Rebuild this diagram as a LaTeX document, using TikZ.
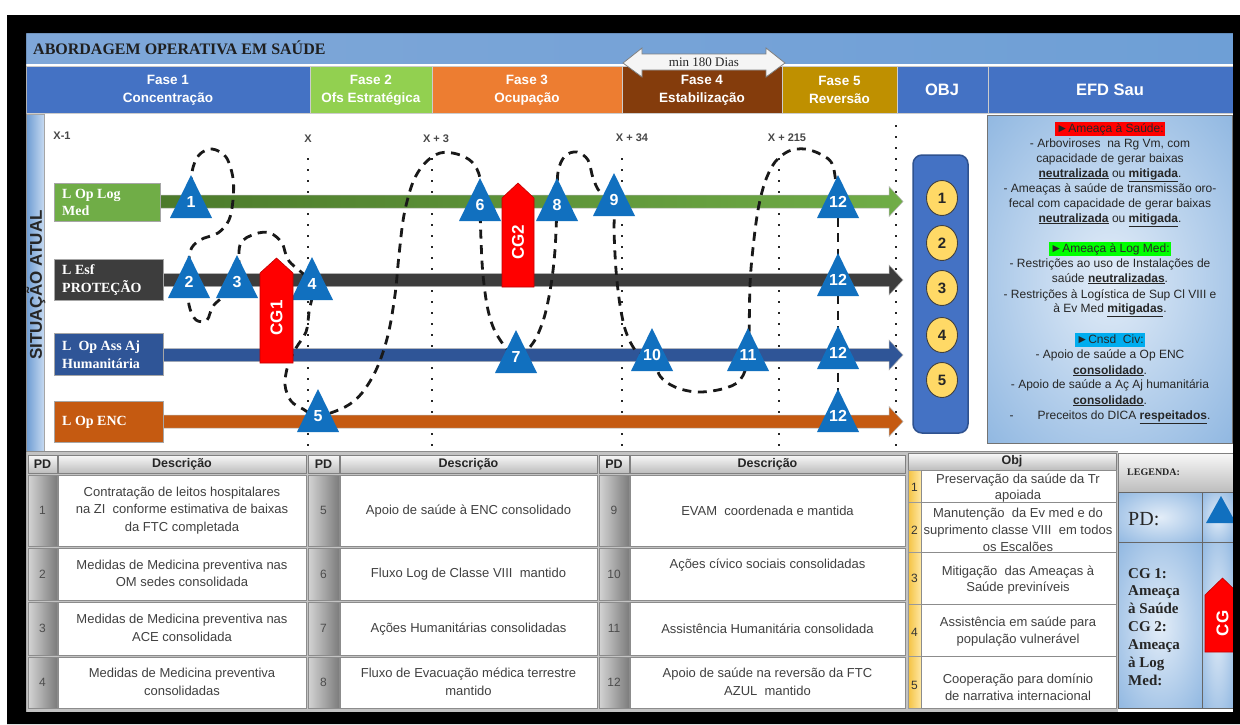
\documentclass[tikz,border=0pt]{standalone}
\usepackage{fontspec}
\setmainfont{Liberation Serif}
\setsansfont{Liberation Sans}
\usetikzlibrary{calc,shapes.geometric}

% palette
\definecolor{hdrblue}{HTML}{4472C4}
\definecolor{hdrgreen}{HTML}{92D050}
\definecolor{hdrorange}{HTML}{ED7D31}
\definecolor{hdrbrown}{HTML}{843C0C}
\definecolor{hdrgold}{HTML}{BF9000}
\definecolor{titleL}{HTML}{7FA7D8}
\definecolor{titleM}{HTML}{CBDDF2}
\definecolor{titleR}{HTML}{6E9FD6}
\definecolor{stripL}{HTML}{6C9BD2}
\definecolor{stripR}{HTML}{C6DAF1}
\definecolor{laneG}{HTML}{70AD47}
\definecolor{laneGd}{HTML}{4C7A2B}
\definecolor{laneK}{HTML}{3D3D3D}
\definecolor{laneB}{HTML}{2F5597}
\definecolor{laneO}{HTML}{C55A11}
\definecolor{pdblue}{HTML}{1170BF}
\definecolor{cgred}{HTML}{FF0000}
\definecolor{cgdark}{HTML}{C00000}
\definecolor{objyel}{HTML}{FFD966}
\definecolor{objedge}{HTML}{2F528F}
\definecolor{panelin}{HTML}{E3EDF8}
\definecolor{panelout}{HTML}{6FA2D8}
\definecolor{txtgray}{HTML}{404040}
\definecolor{pdL}{HTML}{D4D4D4}
\definecolor{pdM}{HTML}{B2B2B2}
\definecolor{pdR}{HTML}{7C7C7C}
\definecolor{hdT}{HTML}{F8F8F8}
\definecolor{hdB}{HTML}{BDBDBD}
\definecolor{frameG}{HTML}{C3C3C3}
\definecolor{stripY}{HTML}{F4C242}
\definecolor{stripYl}{HTML}{FFE8A3}

\pgfdeclareradialshading{panelshade}{\pgfpoint{0bp}{0bp}}{color(0bp)=(panelin); color(50bp)=(panelout)}

\pgfdeclarelayer{back}
\pgfdeclarelayer{mid}
\pgfsetlayers{back,mid,main}

% highlighted heading and bold underlined word
\newcommand\hlbox[2]{{\setlength{\fboxsep}{1pt}\colorbox{#1}{\rule[-3pt]{0pt}{12.5pt}#2}}}
\newcommand\ubf[1]{\underline{\textbf{#1}}}

% PD marker: name, centre x, base y, number
\newcommand\pdtri[4]{%
  \fill[pdblue] (#2-21,#3) -- (#2,#3-43) -- (#2+21,#3) -- cycle;
  \node[pdlab] (#1) at (#2,#3-16) {#4};}
% CG block arrow: name, x1, x2, apex y, shoulder y, bottom y, label
\newcommand\cgarrow[7]{%
  \path[fill=cgred, draw=cgdark, line width=0.6pt] (#2,#6) -- (#2,#5) -- ({(#2+#3)/2},#4) -- (#3,#5) -- (#3,#6) -- cycle;
  \node[cgtext] (#1) at ({(#2+#3)/2},{(#5+#6)/2}) {#7};}
% lane arrow: y centre, left x, style
\newcommand\lanearrow[3]{%
  \path[#3] (#2,#1-6.5) -- (889,#1-6.5) -- (889,#1-15) -- (903,#1) -- (889,#1+15) -- (889,#1+6.5) -- (#2,#1+6.5) -- cycle;}
% table cells
\newcommand\pdcell[6]{%
  \shade[left color=pdL, middle color=pdM, right color=pdR, draw=black!45, line width=0.5pt] (#2,#3) rectangle (#4,#5);
  \node[pdnum] (#1) at ({(#2+#4)/2},{(#3+#5)/2}) {#6};}
\newcommand\desccell[7]{%
  \path[fill=white, draw=black!45, line width=0.6pt] (#2,#3) rectangle (#4,#5);
  \node[cell] (#1) at ({(#2+#4)/2},#6) {#7};}
\newcommand\hdrcell[6]{%
  \shade[top color=hdT, bottom color=hdB, draw=black!50, line width=0.6pt] (#2,#3) rectangle (#4,#5);
  \node[hdtext] (#1) at ({(#2+#4)/2},{(#3+#5)/2}) {#6};}

\begin{document}
\begin{tikzpicture}[x=1pt,y=-1pt,
  phtext/.style={text=white, font=\sffamily\bfseries\fontsize{13.5}{18}\selectfont, align=center, inner sep=0pt},
  bightext/.style={text=white, font=\sffamily\bfseries\fontsize{16.5}{18}\selectfont, inner sep=0pt},
  tlabel/.style={text=black!72, font=\sffamily\bfseries\fontsize{11}{11}\selectfont, inner sep=0pt},
  dotline/.style={black!85, line width=2.4pt, dash pattern=on 2.4pt off 8.6pt},
  lanetext/.style={text=white, font=\bfseries\fontsize{14}{17.5}\selectfont, align=left, anchor=west, inner sep=0pt},
  pdlab/.style={text=white, font=\sffamily\bfseries\fontsize{16}{16}\selectfont, inner sep=0pt},
  loopline/.style={black!90, line width=2.8pt, dash pattern=on 9pt off 6.5pt},
  cgtext/.style={text=white, font=\sffamily\bfseries\fontsize{17}{17}\selectfont, rotate=90, inner sep=0pt},
  objnum/.style={ellipse, minimum width=31pt, minimum height=35pt, inner sep=0pt, fill=objyel, draw=black!75, line width=0.9pt, font=\sffamily\bfseries\fontsize{15}{15}\selectfont, text=black!85},
  efdline/.style={anchor=base, inner sep=0pt, font=\sffamily\fontsize{12}{15}\selectfont, text=black!85},
  cell/.style={font=\sffamily\fontsize{13}{17.5}\selectfont, text=txtgray, align=center, inner sep=0pt},
  objcell/.style={font=\sffamily\fontsize{13}{16.8}\selectfont, text=txtgray, align=center, inner sep=0pt},
  pdnum/.style={font=\sffamily\fontsize{12}{12}\selectfont, text=black!70, inner sep=0pt},
  hdtext/.style={font=\sffamily\bfseries\fontsize{12.5}{12.5}\selectfont, text=black!85, inner sep=0pt},
  legline/.style={anchor=base west, inner sep=0pt, font=\bfseries\fontsize{15}{15}\selectfont, text=black!85}]
\useasboundingbox (0,0) rectangle (1240,724);

\begin{pgfonlayer}{back}
\fill[white] (0,0) rectangle (1240,724);

% title bar
\shade[left color=titleL, middle color=titleM, right color=titleR] (26,33) rectangle (1233,63);
\node[anchor=west, inner sep=0pt, font=\bfseries\fontsize{16}{16}\selectfont, text=black!88] (title) at (33,48) {ABORDAGEM OPERATIVA EM SAÚDE};

% phase header row
\foreach \xa/\xb/\col/\la/\lb [count=\i] in {26/310/hdrblue/Fase 1/Concentração, 310/432/hdrgreen/Fase 2/Ofs Estratégica, 432/622/hdrorange/Fase 3/Ocupação, 622/782/hdrbrown/Fase 4/Estabilização, 782/897/hdrgold/Fase 5/Reversão}{
  \path[fill=\col, draw=white!80!black, line width=0.8pt] (\xa,66) rectangle (\xb,113);
  \node[phtext] (fase\i) at ({(\xa+\xb)/2},90) {\la\\\lb};
}
\path[fill=hdrblue, draw=white!80!black, line width=0.8pt] (897,66) rectangle (988,113);
\node[bightext] (objhdr) at (942,90) {OBJ};
\path[fill=hdrblue, draw=white!80!black, line width=0.8pt] (988,66) rectangle (1233,113);
\node[bightext] (efdhdr) at (1110,90) {EFD Sau};

% minimum duration arrow
\path[fill=black!4, draw=black!50, line width=0.8pt] (623,63) -- (642,48) -- (642,54) -- (766,54) -- (766,48) -- (785,63) -- (766,77) -- (766,70) -- (642,70) -- (642,77) -- cycle;
\node[inner sep=0pt, font=\fontsize{13}{13}\selectfont, text=black!85] (dias) at (704,62) {min 180 Dias};

% side strip
\shade[left color=stripL, right color=stripR, draw=black!35, line width=0.5pt] (26,114) rectangle (44,452);
\node[rotate=90, inner sep=0pt, font=\sffamily\bfseries\fontsize{17}{17}\selectfont, text=black!85] (situacao) at (36,285) {SITUAÇÃO ATUAL};

% time marks
\node[tlabel] (tx1) at (62,136) {X-1};
\node[tlabel] (tx2) at (308,139) {X};
\node[tlabel] (tx3) at (436,139) {X + 3};
\node[tlabel] (tx4) at (632,138) {X + 34};
\node[tlabel] (tx5) at (787,138) {X + 215};
\foreach \xx/\yt in {308/158, 432/158, 622/158, 779/158, 896/125}
  \draw[dotline] (\xx,\yt) -- (\xx,446);

% lines of operation
\lanearrow{201.5}{158}{left color=laneGd, right color=laneG, draw=black!30, line width=0.5pt}
\lanearrow{280}{160}{fill=laneK, draw=black!30, line width=0.5pt}
\lanearrow{355}{160}{fill=laneB, draw=black!30, line width=0.5pt}
\lanearrow{421.5}{160}{fill=laneO, draw=black!30, line width=0.5pt}
\path[fill=laneG, draw=black!35, line width=0.6pt] (54,183) rectangle (160,221);
\path[fill=laneK, draw=black!35, line width=0.6pt] (54,259) rectangle (163,300);
\path[fill=laneB, draw=black!35, line width=0.6pt] (54,333) rectangle (163,375);
\path[fill=laneO, draw=black!35, line width=0.6pt] (54,401) rectangle (163,442);
\node[lanetext] (lane1) at (62,202.5) {L Op\ Log\\Med};
\node[lanetext] (lane2) at (62,280) {L Esf\\PROTEÇÃO};
\node[lanetext] (lane3) at (62,354.5) {L\ \ Op Ass Aj\\Humanitária};
\node[lanetext] (lane4) at (62,422) {L Op ENC};

% objectives column
\path[fill=hdrblue, draw=objedge, line width=1.5pt, rounded corners=9pt] (913,155) rectangle (968,433);
\foreach \yy [count=\i] in {198,243,288,335,380}
  \node[objnum] (obj\i) at (942,\yy) {\i};

% end state panel
\shade[shading=panelshade, draw=black!55, line width=0.8pt] (987,115) rectangle (1232,443);
\foreach \yy/\efdtxt [count=\i] in {
  128/{\hlbox{red}{►Ameaça à Saúde:}},
  143/{- Arboviroses\ \ na Rg Vm, com},
  158/{capacidade de gerar baixas},
  173/{\ubf{neutralizada} ou \ubf{mitigada}.},
  188/{- Ameaças à saúde de transmissão oro-},
  203/{fecal com capacidade de gerar baixas},
  218/{\ubf{neutralizada} ou \ubf{mitigada}.},
  248/{\hlbox{green}{►Ameaça à Log Med:}},
  263/{- Restrições ao uso de Instalações de},
  278/{saúde \ubf{neutralizadas}.},
  294/{- Restrições à Logística de Sup Cl VIII e},
  308/{à Ev Med \ubf{mitigadas}.},
  339/{\hlbox{cyan}{►Cnsd\ \ Civ:}},
  354/{- Apoio de saúde a Op ENC},
  370/{\ubf{consolidado}.},
  384/{- Apoio de saúde a Aç Aj humanitária},
  400/{\ubf{consolidado}.},
  415/{-\hspace{24pt}Preceitos do DICA \ubf{respeitados}.}}
  \node[efdline] (efd\i) at (1110,\yy+4) {\efdtxt};

% lower tables
\fill[frameG] (26,451) rectangle (1118,712);
\draw[black!45, line width=0.6pt] (26,451) -- (1118,451);
\hdrcell{hpd1}{28}{455}{57}{473}{PD}
\hdrcell{hds1}{58}{455}{306}{473}{Descrição}
\hdrcell{hpd2}{308}{455}{339}{473}{PD}
\hdrcell{hds2}{340}{455}{597}{473}{Descrição}
\hdrcell{hpd3}{599}{455}{629}{473}{PD}
\hdrcell{hds3}{630}{455}{905}{473}{Descrição}

\pdcell{pa1}{28}{475}{57}{546}{1}
\pdcell{pa2}{28}{548}{57}{600}{2}
\pdcell{pa3}{28}{602}{57}{655}{3}
\pdcell{pa4}{28}{657}{57}{708}{4}
\pdcell{pb1}{308}{475}{339}{546}{5}
\pdcell{pb2}{308}{548}{339}{600}{6}
\pdcell{pb3}{308}{602}{339}{655}{7}
\pdcell{pb4}{308}{657}{339}{708}{8}
\pdcell{pc1}{599}{475}{629}{546}{9}
\pdcell{pc2}{599}{548}{629}{600}{10}
\pdcell{pc3}{599}{602}{629}{655}{11}
\pdcell{pc4}{599}{657}{629}{708}{12}

\desccell{da1}{58}{475}{306}{546}{510.5}{Contratação de leitos hospitalares\\na ZI\ \ conforme estimativa de baixas\\da FTC completada}
\desccell{da2}{58}{548}{306}{600}{573.5}{Medidas de Medicina preventiva nas\\OM sedes consolidada}
\desccell{da3}{58}{602}{306}{655}{628}{Medidas de Medicina preventiva nas\\ACE consolidada}
\desccell{da4}{58}{657}{306}{708}{682}{Medidas de Medicina preventiva\\consolidadas}
\desccell{db1}{340}{475}{597}{546}{511}{Apoio de saúde à ENC consolidado}
\desccell{db2}{340}{548}{597}{600}{574}{Fluxo Log de Classe VIII\ \ mantido}
\desccell{db3}{340}{602}{597}{655}{629}{Ações Humanitárias consolidadas}
\desccell{db4}{340}{657}{597}{708}{682}{Fluxo de Evacuação médica terrestre\\mantido}
\desccell{dc1}{630}{475}{905}{546}{511}{EVAM\ \ coordenada e mantida}
\desccell{dc2}{630}{548}{905}{600}{565}{Ações cívico sociais consolidadas}
\desccell{dc3}{630}{602}{905}{655}{629}{Assistência Humanitária consolidada}
\desccell{dc4}{630}{657}{905}{708}{682}{Apoio de saúde na reversão da FTC\\AZUL\ \ mantido}

% objectives table
\hdrcell{hobj}{908}{453}{1116}{470}{Obj}
\foreach \ya/\yb/\yn [count=\i] in {470/502/487, 502/552/530, 552/604/578, 604/656/632, 656/708/685}{
  \shade[left color=stripY, right color=stripYl, draw=black!40, line width=0.5pt] (908,\ya) rectangle (921,\yb);
  \path[fill=white, draw=black!45, line width=0.6pt] (921,\ya) rectangle (1116,\yb);
  \node[pdnum, text=black!80] (on\i) at (914.5,\yn) {\i};
}
\node[objcell] (ot1) at (1018,488) {Preservação da saúde da Tr\\apoiada};
\node[objcell] (ot2) at (1018,530) {Manutenção\ \ da Ev med e do\\suprimento classe VIII\ \ em todos\\os Escalões};
\node[objcell] (ot3) at (1018,580) {Mitigação\ \ das Ameaças à\\Saúde previníveis};
\node[objcell] (ot4) at (1018,631.5) {Assistência em saúde para\\população vulnerável};
\node[objcell] (ot5) at (1018,687.5) {Cooperação para domínio\\de narrativa internacional};

% legend
\shade[top color=hdT, bottom color=hdB, draw=black!50, line width=0.6pt] (1118,453) rectangle (1233,492);
\node[anchor=west, inner sep=0pt, font=\bfseries\fontsize{10}{10}\selectfont, text=black!85] (legenda) at (1127,472) {LEGENDA:};
\shade[shading=panelshade, draw=black!60, line width=0.8pt] (1118,492) rectangle (1202,542);
\shade[shading=panelshade, draw=black!60, line width=0.8pt] (1202,492) rectangle (1233,542);
\shade[shading=panelshade, draw=black!60, line width=0.8pt] (1118,542) rectangle (1202,708);
\shade[shading=panelshade, draw=black!60, line width=0.8pt] (1202,542) rectangle (1233,708);
\node[anchor=base west, inner sep=0pt, font=\fontsize{20}{20}\selectfont, text=black!85] (legpd) at (1128,525) {PD:};
\foreach \yy/\lt [count=\i] in {573/CG 1:, 590/Ameaça, 608/à Saúde, 626/CG 2:, 644/Ameaça, 662/à Log, 680/Med:}
  \node[legline] (leg\i) at (1128,\yy+5) {\lt};
\end{pgfonlayer}

% decisive points
\pdtri{t1}{191}{218}{1}
\pdtri{t2}{189}{298}{2}
\pdtri{t3}{237}{298}{3}
\pdtri{t4}{312}{300}{4}
\pdtri{t5}{318}{432}{5}
\pdtri{t6}{480}{221}{6}
\pdtri{t7}{516}{373}{7}
\pdtri{t8}{557}{221}{8}
\pdtri{t9}{614}{216}{9}
\pdtri{t10}{652}{371}{10}
\pdtri{t11}{748}{371}{11}
\pdtri{t12a}{838}{218}{12}
\pdtri{t12b}{838}{296}{12}
\pdtri{t12c}{838}{369}{12}
\pdtri{t12d}{838}{432}{12}

% dashed sequence of decisive points, kept beneath the markers
\begin{pgfonlayer}{mid}
\draw[loopline] plot[smooth, tension=0.55] coordinates {(t1.center) (192,172) (199,155) (212,149) (226,157) (233,178) (233,200) (229,220) (218,233) (200,240) (190,252) (t2.center) (189,305) (196,320) (207,320) (214,305) (t3.center) (240,245) (255,234) (270,233) (282,243) (289,261) (t4.center) (309,312) (306,332) (296,348) (288,365) (285,385) (291,401) (303,409) (t5.center) (345,407) (362,393) (377,368) (388,335) (395,295) (399,255) (404,215) (413,182) (425,163) (440,153) (457,154) (472,162) (480,178) (t6.center) (481,240) (483,275) (488,310) (497,335) (t7.center) (533,343) (544,318) (551,285) (555,250) (t8.center) (558,172) (565,156) (577,152) (588,160) (593,178) (600,192) (t9.center) (614,230) (616,270) (620,305) (626,332) (637,352) (t10.center) (660,376) (675,387) (697,392) (722,389) (740,380) (t11.center) (750,285) (753,248) (758,210) (765,182) (775,162) (789,151) (805,149) (822,155) (833,166) (t12a.center)};
\draw[loopline] (t12a.center) -- (t12d.center);
\end{pgfonlayer}

% centres of gravity
\cgarrow{cg1}{260}{293}{258}{273}{363}{CG1}
\cgarrow{cg2}{502}{534}{183}{198}{287}{CG2}

% legend symbols
\fill[pdblue] (1206,523) -- (1221,496) -- (1236,523) -- cycle;
\cgarrow{cgleg}{1205}{1240}{578}{595}{652}{CG}

% outer frame
\fill[black, even odd rule] (7,15) rectangle (1240,724) (26,33) rectangle (1233,712);
\end{tikzpicture}
\end{document}
